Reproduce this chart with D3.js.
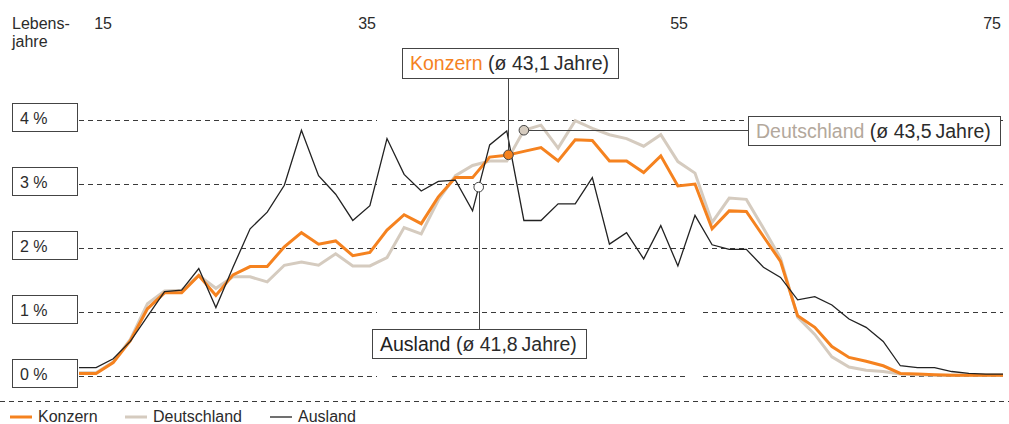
<!DOCTYPE html>
<html lang="de">
<head>
<meta charset="utf-8">
<script src="https://cdn.jsdelivr.net/npm/d3@7"></script>
<style>
  html, body { margin: 0; padding: 0; background: #fff; }
  svg { display: block; font-family: "Liberation Sans", Arial, Helvetica, sans-serif; }
</style>
</head>
<body>
<svg id="chart" width="1009" height="424"></svg>
<script>
// Altersstruktur der Belegschaft: Anteil je Lebensjahr (in %)
const ages = d3.range(18, 73);

const konzern = [
  0.04, 0.04, 0.21, 0.55, 1.05, 1.30, 1.30, 1.57, 1.26, 1.58,
  1.71, 1.71, 2.02, 2.24, 2.06, 2.11, 1.88, 1.93, 2.28, 2.52,
  2.38, 2.80, 3.10, 3.10, 3.42, 3.45, 3.51, 3.57, 3.36, 3.69,
  3.68, 3.36, 3.36, 3.18, 3.44, 2.97, 3.00, 2.30, 2.58, 2.57,
  2.18, 1.79, 0.94, 0.76, 0.46, 0.29, 0.23, 0.16, 0.04, 0.03,
  0.02, 0.01, 0.01, 0.01, 0.01
];

const deutschland = [
  0.05, 0.05, 0.22, 0.57, 1.13, 1.33, 1.34, 1.57, 1.37, 1.55,
  1.55, 1.47, 1.73, 1.78, 1.73, 1.91, 1.72, 1.72, 1.85, 2.32,
  2.22, 2.75, 3.13, 3.29, 3.36, 3.36, 3.84, 3.92, 3.56, 3.99,
  3.87, 3.77, 3.71, 3.59, 3.77, 3.35, 3.17, 2.40, 2.78, 2.76,
  2.31, 1.84, 0.92, 0.65, 0.30, 0.14, 0.09, 0.07, 0.03, 0.02,
  0.01, 0.01, 0.01, 0.01, 0.01
];

const ausland = [
  0.13, 0.13, 0.27, 0.54, 0.93, 1.32, 1.34, 1.68, 1.07, 1.70,
  2.30, 2.56, 2.98, 3.84, 3.13, 2.84, 2.43, 2.66, 3.71, 3.15,
  2.89, 3.04, 3.06, 2.58, 3.61, 3.83, 2.43, 2.43, 2.69, 2.69,
  3.10, 2.06, 2.24, 1.83, 2.35, 1.72, 2.51, 2.05, 1.98, 1.98,
  1.70, 1.54, 1.19, 1.24, 1.11, 0.89, 0.76, 0.54, 0.16, 0.13,
  0.13, 0.07, 0.04, 0.03, 0.03
];

const seriesNames = ["Konzern", "Deutschland", "Ausland"];
const averageAges = ["43,1", "43,5", "41,8"];
const markerAges = [43.1, 44, 41.36];

const percentTicks = [0, 1, 2, 3, 4];
const ageTickLabels = ["15", "35", "55", "75"];

// ---- layout & styles ----
const W = 1009, H = 424;
const colors = { Konzern: "#f5821f", Deutschland: "#d5cbbf", Ausland: "#222222" };
const labelColors = { Konzern: "#f5821f", Deutschland: "#b3a89c", Ausland: "#222222" };
const widths = { Konzern: 3, Deutschland: 3, Ausland: 1.3 };
const dark = "#2b2b2b";
const frame = "#444";

const svg = d3.select("#chart");

const x = d3.scaleLinear().domain([ages[0], ages[ages.length - 1]]).range([79, 1003]);
const y = d3.scaleLinear().domain([0, 4]).range([376, 120]);

// column segments of the dashed grid
const columns = [[79, 377], [392, 689], [703, 1003]];
const tickRightEdges = [112, 376, 688, 1001];

// header: axis title and age labels
const header = svg.append("g").attr("fill", dark).attr("font-size", 16);
header.append("text").attr("x", 12).attr("y", 29).text("Lebens-");
header.append("text").attr("x", 12).attr("y", 47).text("jahre");
header.selectAll("text.age").data(ageTickLabels).join("text")
  .attr("class", "age")
  .attr("x", (d, i) => tickRightEdges[i])
  .attr("y", 29)
  .attr("text-anchor", "end")
  .text(d => d);

// dashed horizontal grid
const grid = svg.append("g")
  .attr("stroke", "#3a3a3a").attr("stroke-width", 1).attr("stroke-dasharray", "5,4");
percentTicks.forEach(t => {
  columns.forEach(c => {
    grid.append("line")
      .attr("x1", c[0]).attr("x2", c[1])
      .attr("y1", Math.round(y(t)) + 0.5).attr("y2", Math.round(y(t)) + 0.5);
  });
});

// boxed percentage labels
const yLab = svg.append("g").selectAll("g").data(percentTicks).join("g")
  .attr("transform", d => `translate(12,${y(d)})`);
yLab.append("rect")
  .attr("x", 0.5).attr("y", -16.5).attr("width", 65).attr("height", 28)
  .attr("fill", "#fff").attr("stroke", frame).attr("stroke-width", 1);
yLab.append("text")
  .attr("x", 8).attr("y", 3.5)
  .attr("fill", dark).attr("font-size", 16)
  .text(d => `${d} %`);

// separator line above legend
svg.append("line")
  .attr("x1", 0).attr("x2", W).attr("y1", 401.5).attr("y2", 401.5)
  .attr("stroke", "#3a3a3a").attr("stroke-dasharray", "5,4");

// series lines
const dataBySeries = { Konzern: konzern, Deutschland: deutschland, Ausland: ausland };
const line = d3.line().x((d, i) => x(ages[i])).y(d => y(d)).curve(d3.curveLinear);
["Deutschland", "Konzern", "Ausland"].forEach(name => {
  svg.append("path")
    .datum(dataBySeries[name])
    .attr("fill", "none")
    .attr("stroke", colors[name])
    .attr("stroke-width", widths[name])
    .attr("stroke-linejoin", "miter")
    .attr("d", line);
});

// value of a series at a (possibly fractional) age
function valueAt(values, age) {
  const k = age - ages[0];
  const i0 = Math.floor(k), i1 = Math.min(i0 + 1, values.length - 1);
  return values[i0] + (values[i1] - values[i0]) * (k - i0);
}

// annotation boxes with leader lines
const boxes = {
  Konzern:     { left: 402, top: 48,  h: 30, leader: "up" },
  Deutschland: { left: 748, top: 116, h: 29, leader: "right" },
  Ausland:     { left: 372, top: 329, h: 29, leader: "down" }
};
const dotFill = { Konzern: "#f5821f", Deutschland: "#d5cbbf", Ausland: "#fff" };

const annot = svg.append("g");
const dotLayer = svg.append("g");
seriesNames.forEach((name, i) => {
  const b = boxes[name];
  const cx = x(markerAges[i]);
  const cy = y(valueAt(dataBySeries[name], markerAges[i]));

  const g = annot.append("g");
  const rect = g.append("rect").attr("fill", "#fff").attr("stroke", frame).attr("stroke-width", 1);
  const t = g.append("text")
    .attr("x", b.left + 8).attr("y", b.top + 21.5)
    .attr("font-size", 19.5).attr("fill", dark);
  t.append("tspan").attr("fill", labelColors[name]).text(name);
  t.append("tspan").text(` (ø ${averageAges[i]}\u2009Jahre)`);
  const tw = t.node().getComputedTextLength();
  const bw = Math.round(tw + 17);
  rect.attr("x", b.left + 0.5).attr("y", b.top + 0.5).attr("width", bw).attr("height", b.h);

  let lx1, ly1, lx2, ly2;
  if (b.leader === "up")    { lx1 = lx2 = Math.round(cx) + 0.5; ly1 = cy; ly2 = b.top + b.h; }
  if (b.leader === "down")  { lx1 = lx2 = Math.round(cx) + 0.5; ly1 = cy; ly2 = b.top; }
  if (b.leader === "right") { lx1 = cx; lx2 = b.left; ly1 = ly2 = Math.round(cy) + 0.5; }
  annot.insert("line", ":first-child")
    .attr("x1", lx1).attr("y1", ly1).attr("x2", lx2).attr("y2", ly2)
    .attr("stroke", frame).attr("stroke-width", 1);

  dotLayer.append("circle")
    .attr("cx", cx).attr("cy", cy).attr("r", 4.8)
    .attr("fill", dotFill[name]).attr("stroke", "#444").attr("stroke-width", 1);
});

// legend
const legendX = [10, 125, 270];
const legend = svg.append("g").selectAll("g").data(seriesNames).join("g")
  .attr("transform", (d, i) => `translate(${legendX[i]},417)`);
legend.append("line")
  .attr("x1", 0).attr("x2", 22).attr("y1", 0).attr("y2", 0)
  .attr("stroke", d => colors[d]).attr("stroke-width", d => widths[d]);
legend.append("text")
  .attr("x", 28).attr("y", 5)
  .attr("font-size", 16).attr("fill", dark)
  .text(d => d);
</script>
</body>
</html>
